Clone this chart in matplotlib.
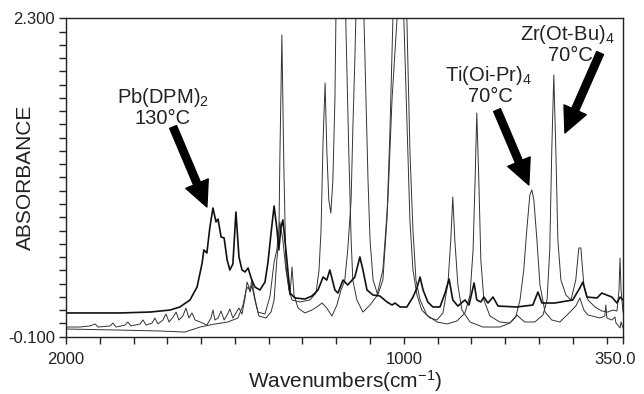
import matplotlib
matplotlib.use("Agg")
import matplotlib.pyplot as plt
import matplotlib.transforms as mtransforms

plt.rcParams['font.family'] = ['Liberation Sans', 'DejaVu Sans']
plt.rcParams['mathtext.fontset'] = 'custom'
plt.rcParams['mathtext.rm'] = 'Liberation Sans'
plt.rcParams['mathtext.it'] = 'Liberation Sans:italic'

# Pb(DPM)2 at 130 C (thick trace)
pb_wn = [2000, 1840, 1751, 1692, 1663, 1633, 1612, 1597, 1592, 1583,
         1574, 1565, 1556, 1550, 1541, 1532, 1523, 1515, 1506, 1497,
         1488, 1479, 1470, 1461, 1452, 1441, 1426, 1411, 1402, 1393,
         1384, 1376, 1370, 1364, 1358, 1349, 1337, 1322, 1293, 1272,
         1254, 1239, 1228, 1219, 1204, 1195, 1180, 1166, 1145, 1130,
         1121, 1109, 1091, 1071, 1050, 1035, 1026, 1011, 991, 973,
         961, 952, 943, 929, 914, 893, 878, 866, 855, 840,
         819, 807, 792, 784, 772, 763, 751, 736, 721, 665,
         618, 603, 591, 553, 500, 479, 470, 458, 428, 414,
         399, 384, 369, 360, 351]
pb_abs = [0.079, 0.079, 0.086, 0.101, 0.124, 0.177, 0.275, 0.456, 0.554, 0.531,
          0.727, 0.870, 0.765, 0.787, 0.652, 0.644, 0.478, 0.403, 0.448, 0.840,
          0.501, 0.403, 0.388, 0.418, 0.342, 0.275, 0.252, 0.312, 0.463, 0.682,
          0.885, 0.719, 0.554, 0.719, 0.780, 0.554, 0.229, 0.192, 0.184, 0.207,
          0.252, 0.350, 0.327, 0.403, 0.252, 0.229, 0.327, 0.290, 0.350, 0.501,
          0.403, 0.252, 0.214, 0.207, 0.162, 0.139, 0.154, 0.124, 0.124, 0.199,
          0.267, 0.350, 0.252, 0.162, 0.124, 0.124, 0.229, 0.335, 0.177, 0.131,
          0.177, 0.139, 0.305, 0.177, 0.162, 0.199, 0.154, 0.199, 0.131, 0.124,
          0.139, 0.237, 0.154, 0.154, 0.177, 0.267, 0.312, 0.199, 0.192, 0.229,
          0.214, 0.199, 0.154, 0.199, 0.177]

# Zr(Ot-Bu)4 at 70 C  (peaks above 2.3 are off scale)
zr_wn = [2000, 1840, 1722, 1648, 1603, 1559, 1521, 1491, 1476, 1467,
         1461, 1455, 1450, 1441, 1429, 1408, 1393, 1384, 1376, 1370,
         1367, 1361, 1355, 1349, 1340, 1331, 1307, 1278, 1260, 1251,
         1245, 1239, 1233, 1228, 1222, 1216, 1210, 1204, 1201, 1186,
         1172, 1163, 1156, 1151, 1139, 1121, 1100, 1080, 1062, 1047,
         1035, 1020, 1006, 991, 982, 973, 964, 952, 932, 902,
         872, 843, 819, 804, 795, 789, 784, 778, 772, 763,
         745, 716, 686, 671, 665, 656, 642, 612, 588, 576,
         568, 562, 556, 550, 544, 535, 520, 505, 491, 482,
         476, 467, 455, 434, 414, 396, 381, 369, 363, 360,
         357, 351]
zr_abs = [-0.042, -0.050, -0.057, -0.065, -0.027, -0.004, 0.011, 0.041, 0.139, 0.252,
          0.275, 0.237, 0.290, 0.177, 0.056, 0.041, 0.086, 0.177, 0.478, 0.629,
          1.232, 2.174, 1.157, 0.441, 0.252, 0.177, 0.162, 0.177, 0.229, 0.403,
          0.704, 1.383, 1.812, 1.307, 0.930, 0.832, 1.081, 1.684, 2.302, 4.0,
          2.302, 1.307, 0.629, 0.327, 0.177, 0.086, 0.139, 0.207, 0.403, 0.930,
          1.684, 2.302, 4.0, 2.302, 1.307, 0.704, 0.327, 0.177, 0.064, 0.011,
          -0.004, 0.018, 0.079, 0.214, 0.554, 1.081, 1.586, 1.081, 0.478, 0.177,
          0.056, 0.011, 0.003, 0.041, 0.064, 0.041, 0.011, 0.011, 0.064, 0.177,
          0.554, 1.307, 1.872, 1.307, 0.629, 0.327, 0.214, 0.177, 0.327, 0.569,
          0.569, 0.290, 0.177, 0.124, 0.094, 0.086, 0.101, 0.094, 0.252, 0.493,
          0.252, 0.086]

# Ti(Oi-Pr)4 at 70 C
ti_wn = [2000, 1959, 1929, 1914, 1905, 1870, 1861, 1852, 1825, 1817,
         1808, 1781, 1772, 1763, 1745, 1737, 1728, 1713, 1704, 1695,
         1683, 1674, 1666, 1654, 1645, 1636, 1627, 1618, 1603, 1583,
         1571, 1565, 1559, 1550, 1541, 1532, 1523, 1515, 1506, 1497,
         1488, 1479, 1470, 1464, 1455, 1450, 1441, 1432, 1411, 1396,
         1384, 1376, 1367, 1358, 1349, 1337, 1331, 1325, 1313, 1293,
         1272, 1254, 1242, 1228, 1213, 1198, 1186, 1175, 1166, 1156,
         1151, 1145, 1142, 1130, 1118, 1112, 1106, 1100, 1091, 1077,
         1062, 1050, 1041, 1032, 1017, 1000, 991, 982, 973, 961,
         947, 923, 902, 884, 869, 861, 855, 849, 840, 828,
         804, 766, 716, 686, 668, 656, 645, 636, 627, 621,
         615, 606, 597, 582, 562, 538, 508, 491, 479, 467,
         455, 419, 405, 402, 399, 384, 375, 372, 366, 360,
         357, 351]
ti_abs = [-0.027, -0.027, -0.019, -0.004, -0.027, -0.019, 0.003, -0.027, -0.012, 0.011,
          -0.019, -0.004, 0.026, -0.012, 0.003, 0.041, -0.004, 0.026, 0.071, 0.011,
          0.048, 0.086, 0.026, 0.056, 0.116, 0.041, 0.079, 0.026, 0.011, -0.012,
          0.041, 0.101, 0.026, 0.041, 0.094, 0.026, 0.064, 0.109, 0.041, 0.079,
          0.116, 0.071, 0.192, 0.312, 0.252, 0.327, 0.192, 0.086, 0.071, 0.207,
          0.463, 0.554, 0.765, 0.629, 0.403, 0.214, 0.425, 0.214, 0.116, 0.079,
          0.101, 0.131, 0.154, 0.116, 0.056, 0.139, 0.252, 0.320, 0.554, 0.930,
          1.458, 1.986, 2.302, 4.0, 2.302, 1.684, 1.081, 0.629, 0.327, 0.214,
          0.327, 0.780, 1.458, 2.302, 4.0, 2.302, 1.533, 0.780, 0.403, 0.214,
          0.101, 0.041, 0.026, 0.079, 0.312, 0.629, 0.953, 0.629, 0.290, 0.101,
          0.011, -0.027, -0.027, 0.003, 0.056, 0.177, 0.403, 0.704, 0.968, 1.006,
          0.930, 0.629, 0.290, 0.086, 0.026, 0.011, 0.086, 0.131, 0.192, 0.101,
          0.064, 0.041, 0.056, 0.139, 0.041, 0.026, 0.048, 0.003, -0.012, -0.034,
          0.011, -0.034]

fig = plt.figure(figsize=(6.44, 3.94), dpi=100)
ax = fig.add_axes([0.1025, 0.1454, 0.8655, 0.8082])

ax.plot(ti_wn, ti_abs, color='#333333', lw=0.7)
ax.plot(zr_wn, zr_abs, color='#333333', lw=0.7)
ax.plot(pb_wn, pb_abs, color='#111111', lw=1.2)

ax.set_xlim(2000, 350)
ax.set_ylim(-0.1, 2.3)

ax.set_xticks([2000, 1000, 350])
ax.set_xticklabels(['2000', '1000', '350.0'])
ax.set_xticks(list(range(1900, 350, -100)), minor=True)
yt = [round(-0.1 + 0.1 * i, 1) for i in range(25)]
ax.set_yticks(yt)
ax.set_yticklabels(['-0.100' if v == -0.1 else ('2.300' if v == 2.3 else '') for v in yt])
ax.tick_params(axis='both', which='both', direction='out', length=5, width=1,
               color='#222222', labelsize=12, labelcolor='#222222')
ax.tick_params(axis='x', pad=6)
ax.tick_params(axis='y', pad=3)

# nudge the last x label left so it stays inside the figure
lab = ax.get_xticklabels()[-1]
lab.set_transform(lab.get_transform() + mtransforms.ScaledTranslation(-8 / 100, 0, fig.dpi_scale_trans))

for s in ax.spines.values():
    s.set_linewidth(1.0)
    s.set_color('#222222')

fig.text(345 / 644, 1 - 381 / 394, 'Wavenumbers(cm$^{-1}$)', fontsize=15,
         color='#222222', ha='center', va='center')
fig.text(25 / 644, 1 - 177 / 394, 'ABSORBANCE', fontsize=15, rotation=90,
         color='#222222', ha='center', va='center')

arrow = dict(arrowstyle='simple,head_width=1.25,head_length=1.3,tail_width=0.38',
             color='black', mutation_scale=14, shrinkA=0, shrinkB=0)
ax.annotate('', xy=(1583, 0.878), xytext=(1683, 1.481), arrowprops=arrow)
ax.annotate('', xy=(630, 1.044), xytext=(724, 1.608), arrowprops=arrow)
ax.annotate('', xy=(523, 1.436), xytext=(419, 2.038), arrowprops=arrow)

tkw = dict(ha='center', va='center', fontsize=14.5, color='#222222', clip_on=False)
ax.text(1713, 1.700, 'Pb(DPM)$_2$', **tkw)
ax.text(1713, 1.548, '130°C', **tkw)
ax.text(751, 1.866, 'Ti(Oi-Pr)$_4$', **tkw)
ax.text(745, 1.714, '70°C', **tkw)
ax.text(517, 2.175, 'Zr(Ot-Bu)$_4$', **tkw)
ax.text(508, 2.023, '70°C', **tkw)

fig.savefig('out.png', dpi=100)
